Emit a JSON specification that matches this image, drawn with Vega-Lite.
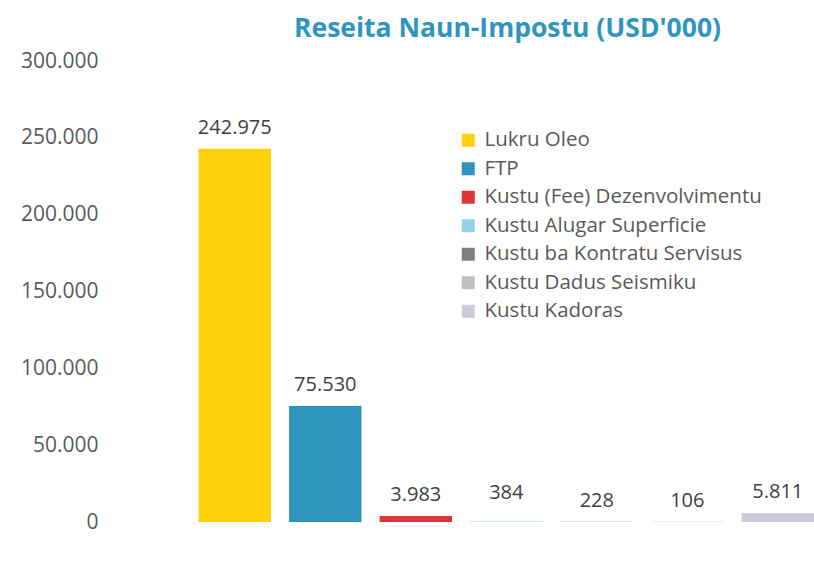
{
  "$schema": "https://vega.github.io/schema/vega-lite/v6.json",
  "width": 709,
  "height": 461,
  "autosize": "none",
  "padding": {"left": 105, "top": 61, "right": 0, "bottom": 51},
  "background": "white",
  "title": {
    "text": "Reseita Naun-Impostu (USD'000)",
    "font": "Open Sans",
    "fontSize": 26.5,
    "fontWeight": "bold",
    "color": "#2E95C0",
    "anchor": "middle",
    "frame": "group",
    "dx": 48,
    "dy": 36,
    "baseline": "alphabetic",
    "offset": 23
  },
  "data": {
    "values": [
      {"kategoria": "Lukru Oleo", "valor": 242975},
      {"kategoria": "FTP", "valor": 75530},
      {"kategoria": "Kustu (Fee) Dezenvolvimentu", "valor": 3983},
      {"kategoria": "Kustu Alugar Superficie", "valor": 384},
      {"kategoria": "Kustu ba Kontratu Servisus", "valor": 228},
      {"kategoria": "Kustu Dadus Seismiku", "valor": 106},
      {"kategoria": "Kustu Kadoras", "valor": 5811}
    ]
  },
  "encoding": {
    "x": {
      "field": "kategoria",
      "type": "nominal",
      "sort": null,
      "axis": null,
      "scale": {"paddingInner": 0.2, "paddingOuter": 0.517, "align": 1}
    },
    "y": {
      "field": "valor",
      "type": "quantitative",
      "scale": {"domain": [0, 300000], "nice": false},
      "axis": {
        "values": [0, 50000, 100000, 150000, 200000, 250000, 300000],
        "format": ",.0f",
        "title": null,
        "grid": false,
        "domain": false,
        "ticks": false,
        "labelPadding": 7,
        "labelFont": "Open Sans",
        "labelFontSize": 21,
        "labelColor": "#595959"
      }
    }
  },
  "layer": [
    {
      "mark": {"type": "bar"},
      "encoding": {
        "color": {
          "field": "kategoria",
          "type": "nominal",
          "sort": null,
          "scale": {
            "domain": ["Lukru Oleo", "FTP", "Kustu (Fee) Dezenvolvimentu", "Kustu Alugar Superficie", "Kustu ba Kontratu Servisus", "Kustu Dadus Seismiku", "Kustu Kadoras"],
            "range": ["#FFD00B", "#2E93BD", "#DF343A", "#93D0E7", "#7F7F7F", "#BFBFBF", "#CECADC"]
          },
          "legend": {
            "title": null,
            "orient": "none",
            "legendX": 353,
            "legendY": 69,
            "symbolType": "square",
            "symbolSize": 169,
            "symbolStrokeWidth": 0,
            "labelFont": "Open Sans",
            "labelFontSize": 20.5,
            "labelColor": "#595959",
            "labelOffset": 6,
            "rowPadding": 7.5,
            "labelLimit": 400
          }
        }
      }
    },
    {
      "transform": [{"filter": "datum.valor != 384"}],
      "mark": {"type": "text", "font": "Open Sans", "fontSize": 20, "color": "#404040", "dy": -15, "baseline": "alphabetic"},
      "encoding": {"text": {"field": "valor", "type": "quantitative", "format": ",.0f"}}
    },
    {
      "transform": [{"filter": "datum.valor == 384"}],
      "mark": {"type": "text", "font": "Open Sans", "fontSize": 20, "color": "#404040", "dy": -22, "baseline": "alphabetic"},
      "encoding": {"text": {"field": "valor", "type": "quantitative", "format": ",.0f"}}
    }
  ],
  "config": {
    "view": {"stroke": null},
    "locale": {"number": {"decimal": ",", "thousands": ".", "grouping": [3], "currency": ["", ""]}}
  }
}
